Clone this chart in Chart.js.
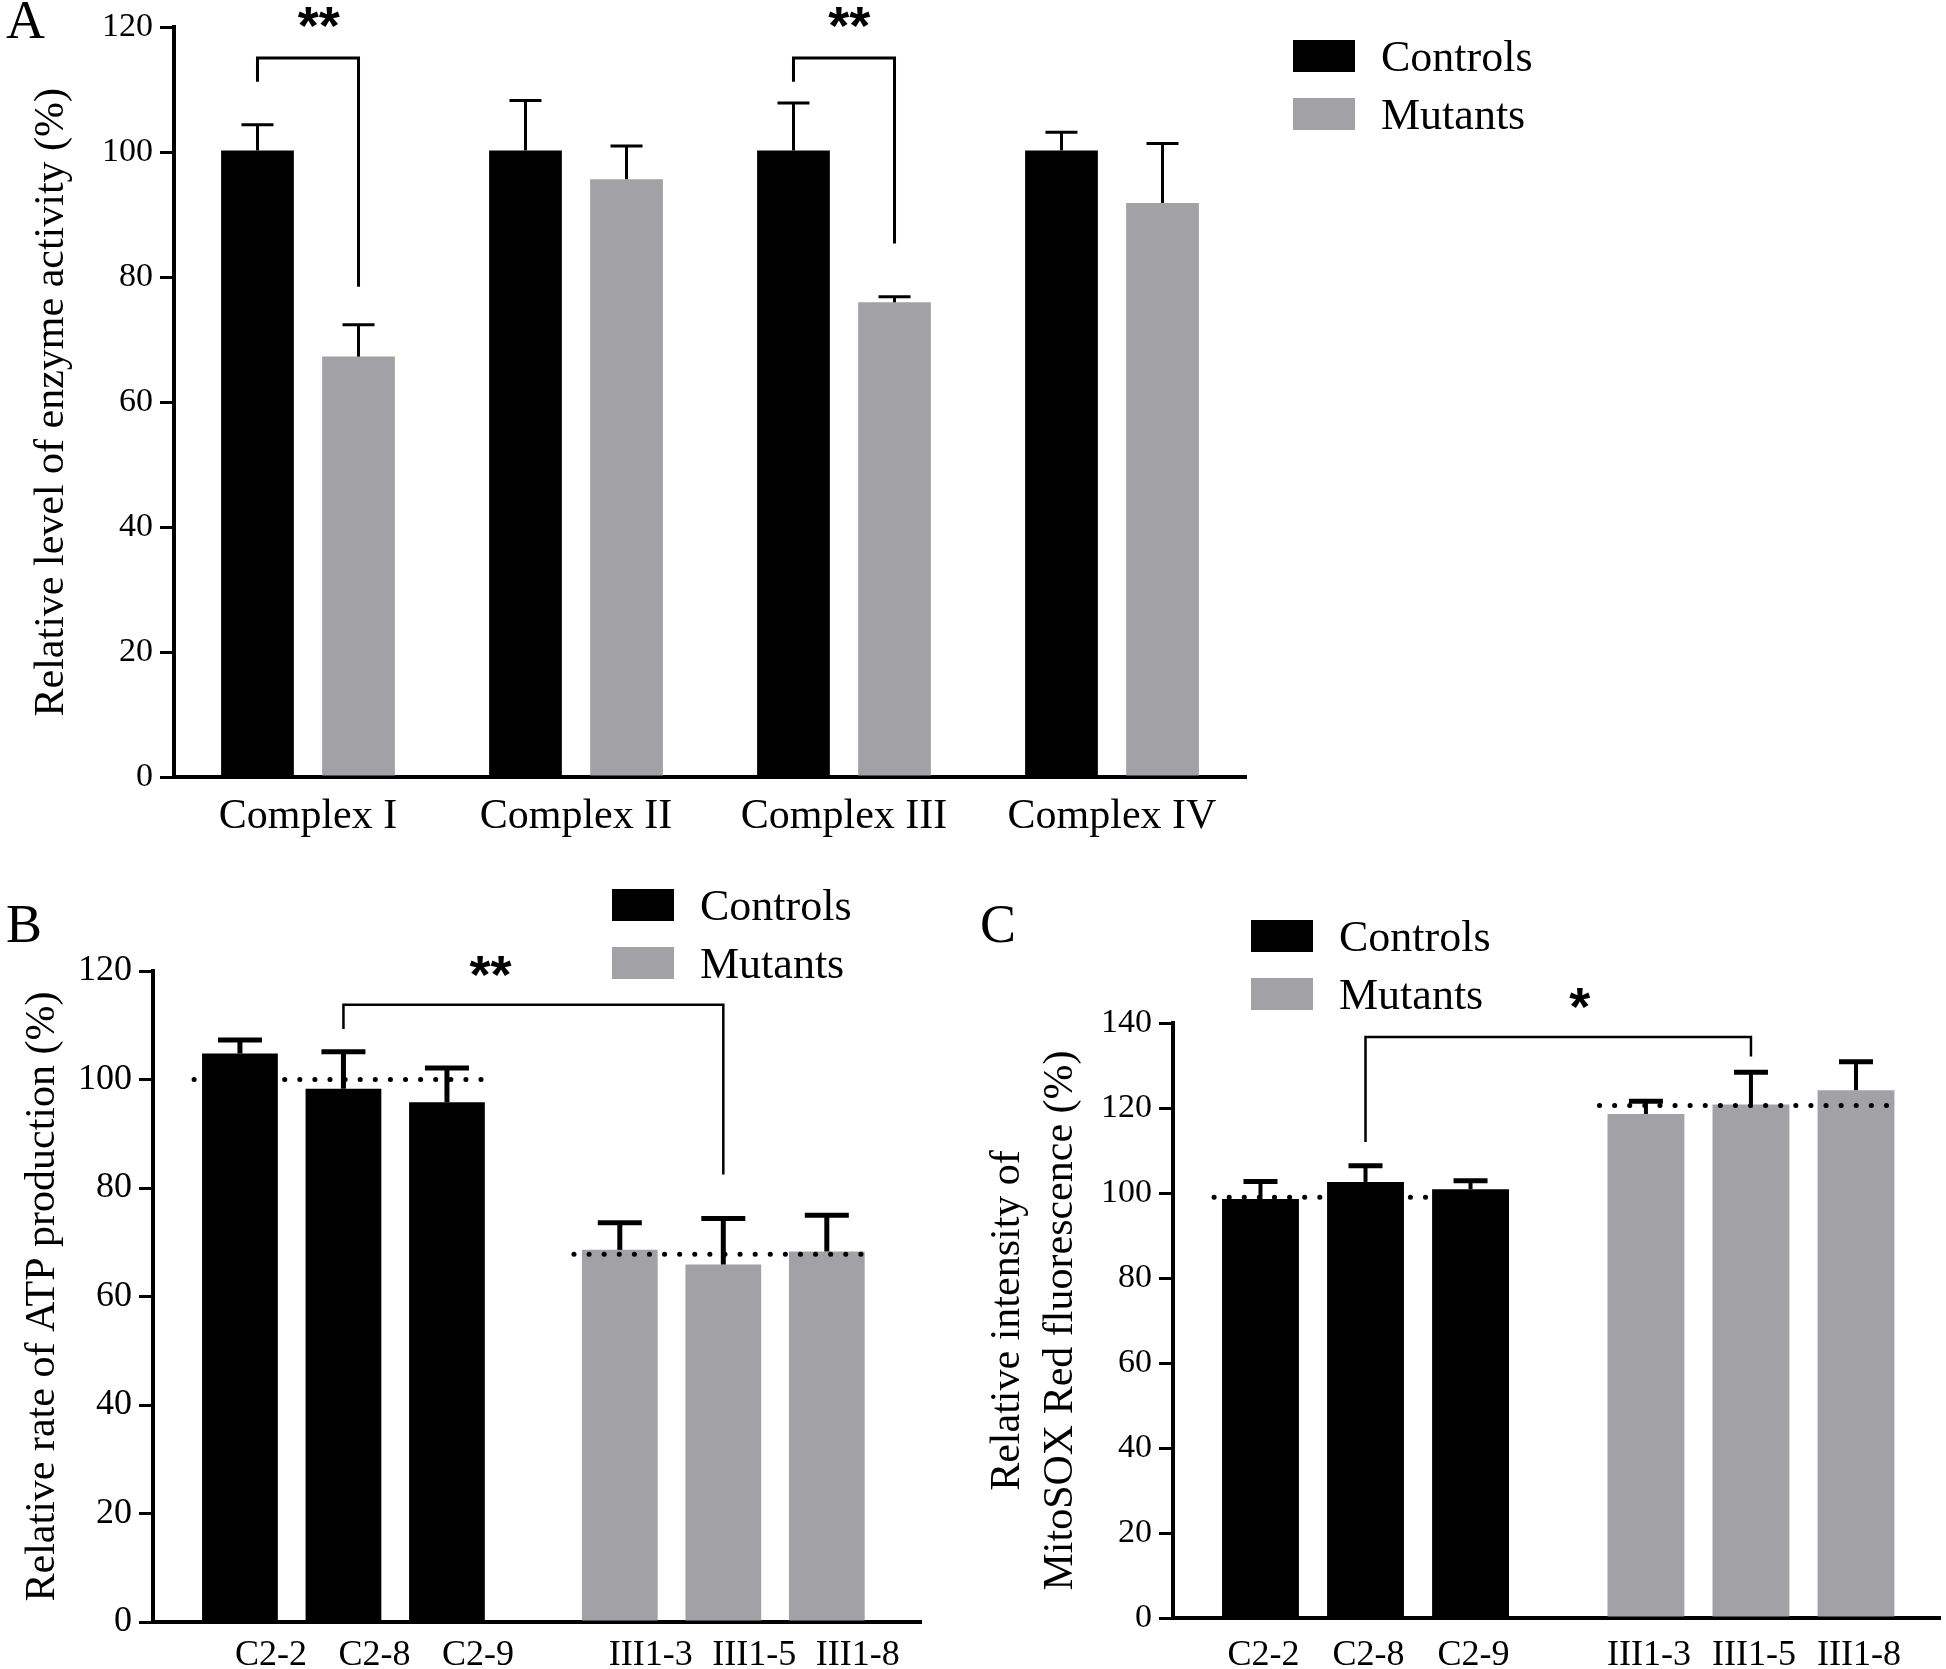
<!DOCTYPE html>
<html>
<head>
<meta charset="utf-8">
<script src="https://cdn.jsdelivr.net/npm/chart.js@4.4.1/dist/chart.umd.min.js"></script>
<style>
  body { margin: 0; background: #fff; width: 1946px; height: 1669px; position: relative; overflow: hidden;
         font-family: "Liberation Serif", "Times New Roman", serif; color: #000; }
  canvas, .legend, .panel-letter { position: absolute; }
  .panel-letter { font-size: 54px; line-height: 1; }
  .legend-item { display: flex; align-items: center; height: 32px; margin-bottom: 26px; font-size: 44px; white-space: nowrap; }
  .legend-box { display: inline-block; width: 62px; height: 32px; margin-right: 26px; }
</style>
</head>
<body>
<div class="panel-letter" style="left:6px;top:-7px">A</div>
<div class="panel-letter" style="left:6px;top:897px">B</div>
<div class="panel-letter" style="left:980px;top:897px">C</div>

<canvas id="chart-a" width="1300" height="860" style="left:0;top:0"></canvas>
<canvas id="chart-b" width="960" height="809" style="left:0;top:860px"></canvas>
<canvas id="chart-c" width="986" height="809" style="left:960px;top:860px"></canvas>

<div id="legend-a" class="legend" style="left:1293px;top:40px"></div>
<div id="legend-b" class="legend" style="left:612px;top:889px"></div>
<div id="legend-c" class="legend" style="left:1251px;top:920px"></div>

<script>
// Panel A - respiratory chain enzyme activity
const complexLabels = ['Complex I', 'Complex II', 'Complex III', 'Complex IV'];
const complexControls = [100.3, 100.3, 100.3, 100.3];
const complexControlsErr = [4.1, 8.0, 7.6, 2.9];
const complexMutants = [67.3, 95.7, 76.0, 91.9];
const complexMutantsErr = [5.1, 5.3, 0.9, 9.5];

// Panels B and C - cell lines
const controlLines = ['C2-2', 'C2-8', 'C2-9'];
const mutantLines = ['III1-3', 'III1-5', 'III1-8'];

// B - ATP production
const atpControls = [104.8, 98.3, 95.8];
const atpControlsErr = [2.5, 6.8, 6.3];
const atpMutants = [68.6, 65.9, 68.3];
const atpMutantsErr = [5.0, 8.5, 6.7];
const atpMeans = [100, 67.8];

// C - MitoSOX Red
const soxControls = [98.6, 102.6, 100.9];
const soxControlsErr = [4.1, 3.8, 2.0];
const soxMutants = [118.6, 120.8, 124.2];
const soxMutantsErr = [3.0, 7.6, 6.7];
const soxMeans = [99.0, 120.6];

const serif = '"Liberation Serif", "Times New Roman", serif';
const black = '#000000';
const grey = '#a2a1a6';

Chart.defaults.color = '#000';
Chart.defaults.font.family = serif;

// bars of the mutant group sit after a wider gap than the one between bars
const groupOffset = 3.67;
const ctrlX = controlLines.map((_, i) => i);
const mutX = mutantLines.map((_, i) => i + groupOffset);
const lineLabels = controlLines.concat(mutantLines);

// error bars, dotted group means and significance brackets
function makeDecor(style) {
  return {
    id: 'decor',
    afterDatasetsDraw(chart) {
      const ctx = chart.ctx;
      const y = v => chart.scales.y.getPixelForValue(v);
      ctx.save();
      ctx.strokeStyle = '#000';
      ctx.fillStyle = '#000';

      chart.data.datasets.forEach((ds, d) => {
        const meta = chart.getDatasetMeta(d);
        if (ds.groupMean !== undefined) {
          const first = meta.data[0], last = meta.data[meta.data.length - 1];
          ctx.beginPath();
          ctx.setLineDash([0.1, 15]);
          ctx.lineCap = 'round';
          ctx.lineWidth = 5;
          ctx.moveTo(first.x - first.width / 2 - 8, y(ds.groupMean));
          ctx.lineTo(last.x + last.width / 2 + 4, y(ds.groupMean));
          ctx.stroke();
          ctx.setLineDash([]);
          ctx.lineCap = 'butt';
        }
      });

      chart.data.datasets.forEach((ds, d) => {
        const meta = chart.getDatasetMeta(d);
        meta.data.forEach((bar, i) => {
          const top = y(meta.controller.getParsed(i).y + ds.errorBars[i]);
          ctx.lineWidth = style.errWidth;
          ctx.beginPath();
          ctx.moveTo(bar.x, bar.y);
          ctx.lineTo(bar.x, top);
          ctx.stroke();
          ctx.lineWidth = style.capThickness;
          ctx.beginPath();
          ctx.moveTo(bar.x - style.capWidth / 2, top);
          ctx.lineTo(bar.x + style.capWidth / 2, top);
          ctx.stroke();
        });
      });

      style.brackets.forEach(b => {
        const left = chart.getDatasetMeta(b.from[0]).data[b.from[1]];
        const right = chart.getDatasetMeta(b.to[0]).data[b.to[1]];
        ctx.lineWidth = style.bracketWidth;
        ctx.lineJoin = 'miter';
        ctx.beginPath();
        ctx.moveTo(left.x, y(b.leftEnd));
        ctx.lineTo(left.x, y(b.top));
        ctx.lineTo(right.x, y(b.top));
        ctx.lineTo(right.x, y(b.rightEnd));
        ctx.stroke();
        ctx.font = 'bold ' + style.starSize + 'px "Liberation Sans", Arial, sans-serif';
        ctx.textAlign = 'center';
        ctx.textBaseline = 'alphabetic';
        // asterisks sit high in the em box, so shift the baseline to centre them on labelY
        ctx.fillText(b.label, chart.scales.x.getPixelForValue(b.labelX), y(b.labelY) + 0.435 * style.starSize);
      });
      ctx.restore();
    }
  };
}

function yAxis(max, tickSize, title, titlePad, width, lineHeight) {
  return {
    min: 0,
    max: max,
    afterFit: s => { s.width = width; },
    ticks: { stepSize: 20, color: '#000', padding: 7, font: { family: serif, size: tickSize } },
    grid: { display: true, drawOnChartArea: false, drawTicks: true, tickLength: 14, tickWidth: 3,
            tickColor: '#000', color: '#000', lineWidth: 3 },
    border: { display: true, color: '#000', width: 4 },
    title: { display: true, text: title, color: '#000',
             font: { family: serif, size: 42, lineHeight: lineHeight || 1.2 },
             padding: { top: titlePad, bottom: 0 } }
  };
}

function htmlLegend(chart, id) {
  const box = document.getElementById(id);
  chart.data.datasets.forEach(ds => {
    const item = document.createElement('div');
    item.className = 'legend-item';
    const swatch = document.createElement('span');
    swatch.className = 'legend-box';
    swatch.style.background = ds.backgroundColor;
    const text = document.createElement('span');
    text.textContent = ds.label;
    item.append(swatch, text);
    box.appendChild(item);
  });
}

const common = {
  responsive: false,
  animation: false,
  events: [],
  devicePixelRatio: 1,
  plugins: { legend: { display: false }, tooltip: { enabled: false } }
};

// Panel A
const chartA = new Chart(document.getElementById('chart-a'), {
  type: 'bar',
  data: {
    labels: complexLabels,
    datasets: [
      { label: 'Controls', data: complexControls, backgroundColor: black, errorBars: complexControlsErr },
      { label: 'Mutants', data: complexMutants, backgroundColor: grey, errorBars: complexMutantsErr }
    ]
  },
  options: Object.assign({}, common, {
    categoryPercentage: 0.754,
    barPercentage: 0.72,
    layout: { padding: { left: 0, top: 22, right: 54, bottom: 0 } },
    scales: {
      x: {
        afterFit: s => { s.height = 83; },
        grid: { display: false, drawTicks: false },
        border: { display: true, color: '#000', width: 4 },
        ticks: { color: '#000', padding: 15, maxRotation: 0, autoSkip: false, font: { family: serif, size: 42 } }
      },
      y: yAxis(120, 34, 'Relative level of enzyme activity (%)', 27, 174)
    }
  }),
  plugins: [makeDecor({
    errWidth: 3, capThickness: 3, capWidth: 32, bracketWidth: 3, starSize: 54,
    brackets: [
      { from: [0, 0], to: [1, 0], top: 115.1, leftEnd: 111.3, rightEnd: 78.5, label: '**', labelX: 0.04, labelY: 121.1 },
      { from: [0, 2], to: [1, 2], top: 115.1, leftEnd: 111.3, rightEnd: 85.4, label: '**', labelX: 2.02, labelY: 121.1 }
    ]
  })]
});

function lineXAxis(min, max, height, pad, shift) {
  return {
    type: 'linear',
    min: min,
    max: max,
    bounds: 'data',
    offset: false,
    afterFit: s => { s.height = height; },
    afterBuildTicks: s => { s.ticks = ctrlX.concat(mutX).map(v => ({ value: v })); },
    grid: { display: false, drawTicks: false },
    border: { display: true, color: '#000', width: 4 },
    ticks: { color: '#000', padding: pad, labelOffset: shift, maxRotation: 0, autoSkip: false,
             font: { family: serif, size: 36 }, callback: (v, i) => lineLabels[i] }
  };
}

function lineDatasets(ctrl, ctrlErr, mut, mutErr, means) {
  return [
    { label: 'Controls', data: ctrl.map((v, i) => ({ x: ctrlX[i], y: v })), backgroundColor: black,
      errorBars: ctrlErr, groupMean: means[0], grouped: false, categoryPercentage: 0.8, barPercentage: 0.915 },
    { label: 'Mutants', data: mut.map((v, i) => ({ x: mutX[i], y: v })), backgroundColor: grey,
      errorBars: mutErr, groupMean: means[1], grouped: false, categoryPercentage: 0.8, barPercentage: 0.915 }
  ];
}

// Panel B
const chartB = new Chart(document.getElementById('chart-b'), {
  type: 'bar',
  data: { datasets: lineDatasets(atpControls, atpControlsErr, atpMutants, atpMutantsErr, atpMeans) },
  options: Object.assign({}, common, {
    layout: { padding: { left: 0, top: 111, right: 39, bottom: 0 } },
    scales: {
      x: lineXAxis(-0.84, 6.58, 47, 12, 31),
      y: yAxis(120, 36, 'Relative rate of ATP production (%)', 18, 153)
    }
  }),
  plugins: [makeDecor({
    errWidth: 5, capThickness: 5, capWidth: 44, bracketWidth: 2.5, starSize: 54,
    brackets: [
      { from: [0, 1], to: [1, 1], top: 113.8, leftEnd: 109.3, rightEnd: 82.5, label: '**', labelX: 2.42, labelY: 120.2 }
    ]
  })]
});

// Panel C
const chartC = new Chart(document.getElementById('chart-c'), {
  type: 'bar',
  data: { datasets: lineDatasets(soxControls, soxControlsErr, soxMutants, soxMutantsErr, soxMeans) },
  options: Object.assign({}, common, {
    layout: { padding: { left: 0, top: 163, right: 6, bottom: 0 } },
    scales: {
      x: lineXAxis(-0.833, 6.47, 51, 16, 3),
      y: yAxis(140, 34, ['Relative intensity of', 'MitoSOX Red fluorescence (%)'], 21.5, 213, 1.262)
    }
  }),
  plugins: [makeDecor({
    errWidth: 4, capThickness: 5, capWidth: 34, bracketWidth: 2.5, starSize: 54,
    brackets: [
      { from: [0, 1], to: [1, 1], top: 136.7, leftEnd: 112.0, rightEnd: 132.1, label: '*', labelX: 3.04, labelY: 145.0 }
    ]
  })]
});

htmlLegend(chartA, 'legend-a');
htmlLegend(chartB, 'legend-b');
htmlLegend(chartC, 'legend-c');
</script>
</body>
</html>
